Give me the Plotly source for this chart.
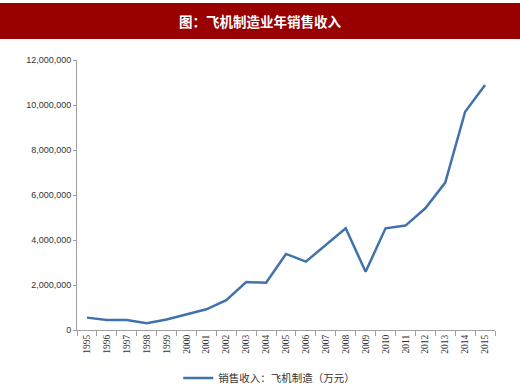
import plotly.graph_objects as go

years = [str(y) for y in range(1995, 2016)]
revenue = [550000, 440000, 440000, 300000, 470000, 710000, 920000, 1330000,
           2130000, 2100000, 3380000, 3040000, 3780000, 4520000, 2590000,
           4520000, 4640000, 5410000, 6550000, 9700000, 10890000]
y_ticks = [0, 2000000, 4000000, 6000000, 8000000, 10000000, 12000000]
y_tick_labels = ["0", "2,000,000", "4,000,000", "6,000,000", "8,000,000", "10,000,000", "12,000,000"]
series_name = "销售收入：飞机制造（万元）"
title_text = "图：飞机制造业年销售收入"

fig = go.Figure()
fig.add_trace(go.Scatter(
    x=years, y=revenue, mode="lines", name=series_name,
    line=dict(color="#4172ab", width=2.5),
))

fig.update_layout(
    width=520, height=391,
    margin=dict(l=77, r=25, t=60, b=61, autoexpand=False),
    paper_bgcolor="white", plot_bgcolor="white",
    font=dict(family="Noto Sans CJK SC, Liberation Sans, sans-serif", color="#333333"),
    showlegend=True,
    legend=dict(orientation="h", x=0.46, xanchor="center", y=-0.178, yanchor="middle",
                font=dict(size=10.5, color="#333333"), bgcolor="rgba(0,0,0,0)"),
    shapes=[dict(type="rect", xref="paper", yref="paper", x0=-77/418, x1=1 + 25/418,
                 y0=(330 - 39) / 270, y1=(330 - 3) / 270,
                 fillcolor="#990000", line=dict(width=0), layer="below")],
    annotations=[dict(text="<b>" + title_text + "</b>", xref="paper", yref="paper",
                      x=(260 - 77) / 418, y=(330 - 21) / 270, xanchor="center", yanchor="middle",
                      showarrow=False, font=dict(size=13.5, color="white",
                                                 family="Noto Sans CJK SC, sans-serif"))],
)

fig.update_xaxes(
    type="category", range=[-0.5, 20.5], tickangle=-90, automargin=False,
    tickfont=dict(size=9.5, color="#333333", family="Liberation Serif, serif"),
    showline=True, linecolor="#a0a0a0", linewidth=1,
    ticks="outside", ticklen=5, tickcolor="#a0a0a0", tickson="boundaries",
    showgrid=False,
)
fig.update_yaxes(
    range=[0, 12000000], tickvals=y_ticks, ticktext=y_tick_labels, automargin=False,
    tickfont=dict(size=9, color="#333333", family="Liberation Sans, sans-serif"),
    showline=True, linecolor="#a0a0a0", linewidth=1,
    ticks="outside", ticklen=3, tickcolor="#a0a0a0",
    showgrid=False, zeroline=False,
)

fig.write_html("out.html", config={"displayModeBar": False},
               post_script="document.body.style.margin='0';document.body.style.overflow='hidden';")
